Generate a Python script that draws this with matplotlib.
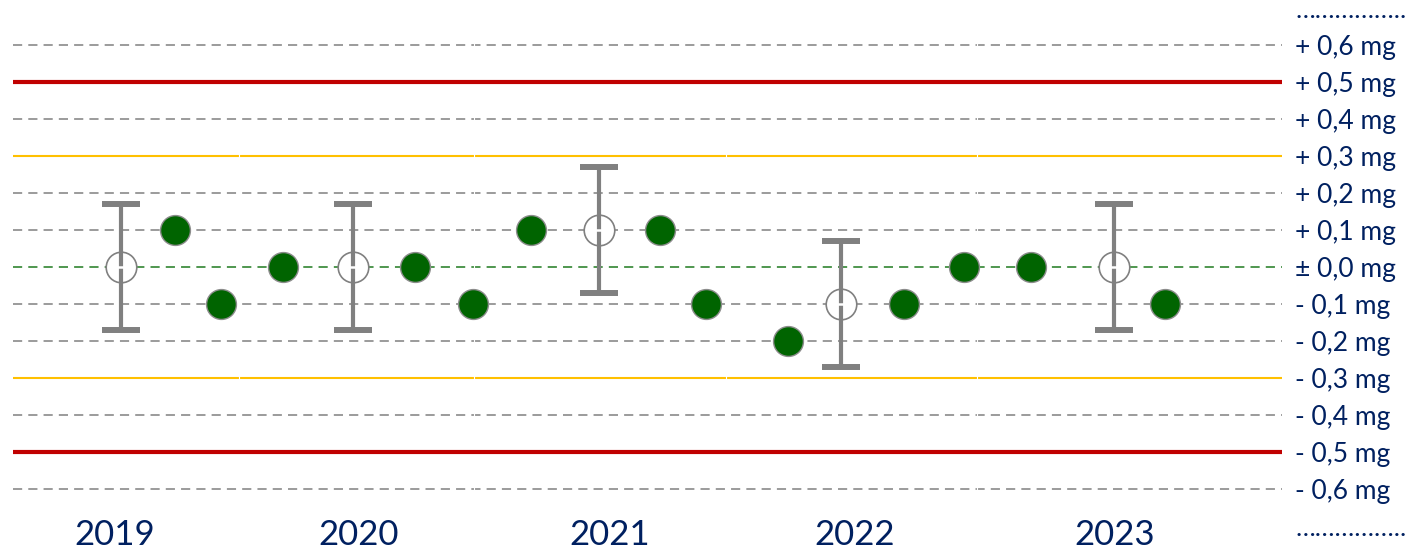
import matplotlib
matplotlib.use("Agg")
import matplotlib.pyplot as plt
import matplotlib.transforms as mtransforms

plt.rcParams['font.family'] = ['Lato', 'DejaVu Sans']

# --- DATA ---
# x positions along the time axis (0..100 = full width of the plot)
years       = ["2019", "2020", "2021", "2022", "2023"]
year_pos    = [8.04, 27.27, 47.04, 66.35, 86.84]
year_bounds = [17.77, 36.33, 56.15, 75.96]

# single measurements (mg deviation)
meas_x = [12.77, 16.39, 21.30, 31.68, 36.27, 40.80, 50.98, 54.63,
          61.10, 70.24, 74.96, 80.22, 90.80]
meas_y = [0.1, -0.1, 0.0, 0.0, -0.1, 0.1, 0.1, -0.1,
          -0.2, -0.1, 0.0, 0.0, -0.1]

# reference values with uncertainty
ref_x   = [8.53, 26.76, 46.15, 65.22, 86.74]
ref_y   = [0.0, 0.0, 0.1, -0.1, 0.0]
ref_err = [0.17, 0.17, 0.17, 0.17, 0.17]

# horizontal reference lines
dashed_levels = [0.6, 0.4, 0.2, 0.1, -0.1, -0.2, -0.4, -0.6]
warn_levels   = [0.3, -0.3]
limit_levels  = [0.5, -0.5]
zero_level    = 0.0

tick_vals   = [0.7, 0.6, 0.5, 0.4, 0.3, 0.2, 0.1, 0.0,
               -0.1, -0.2, -0.3, -0.4, -0.5, -0.6, -0.7]
dots = "\u2026" * 5 + ".."
tick_labels = [dots, "+ 0,6 mg", "+ 0,5 mg", "+ 0,4 mg", "+ 0,3 mg",
               "+ 0,2 mg", "+ 0,1 mg", "\u00b1 0,0 mg", "- 0,1 mg", "- 0,2 mg",
               "- 0,3 mg", "- 0,4 mg", "- 0,5 mg", "- 0,6 mg", dots]

# --- STYLE ---
NAVY   = "#002060"
GRAY   = "#808080"
RED    = "#C00000"
YELLOW = "#FFC000"
GREEN  = "#006400"

W, H = 1405, 554
fig = plt.figure(figsize=(W / 100, H / 100), dpi=100)
ax = fig.add_axes([13 / W, 1 - 526 / H, 1269 / W, 518 / H])
ax.set_xlim(0, 100)
ax.set_ylim(-0.7, 0.7)
for s in ax.spines.values():
    s.set_visible(False)

# reference lines
for lv in dashed_levels:
    ax.axhline(lv, color=GRAY, lw=1.1, ls=(0, (6, 4)), zorder=1)
ax.axhline(zero_level, color="#1f7a1f", lw=1.1, ls=(0, (6, 4)), zorder=1)
for lv in warn_levels:
    ax.axhline(lv, color=YELLOW, lw=1.5, zorder=1)
for lv in limit_levels:
    ax.axhline(lv, color=RED, lw=3, zorder=2)

# small breaks between the yearly segments (not on the red limit lines)
for b in year_bounds:
    ax.axvline(b, color="white", lw=0.8, zorder=1.5)

# measurements
ax.plot(meas_x, meas_y, "o", ms=21.5, mfc=GREEN, mec="#8c8c8c", mew=1, zorder=4)

# reference values + uncertainty
ax.plot(ref_x, ref_y, "o", ms=22, mfc="white", mec=GRAY, mew=1.2, zorder=3)
ax.errorbar(ref_x, ref_y, yerr=ref_err, fmt="none", ecolor=GRAY,
            elinewidth=3, capsize=14, capthick=4.3, zorder=4)
ax.plot(ref_x, ref_y, "_", ms=6, mec="white", mew=1.8, zorder=5)

# y labels on the right
ax.yaxis.tick_right()
ax.set_yticks(tick_vals)
ax.set_yticklabels(tick_labels)
ax.tick_params(axis="y", length=0, pad=9.5, labelsize=19, labelcolor=NAVY)
ax.set_xticks([])

# year labels under the plot
trans = mtransforms.blended_transform_factory(ax.transData, ax.transAxes)
for yr, xp in zip(years, year_pos):
    ax.text(xp, -0.036, yr, transform=trans, ha="center", va="baseline",
            fontsize=25, color=NAVY, clip_on=False)

fig.savefig("out.png", dpi=100)
